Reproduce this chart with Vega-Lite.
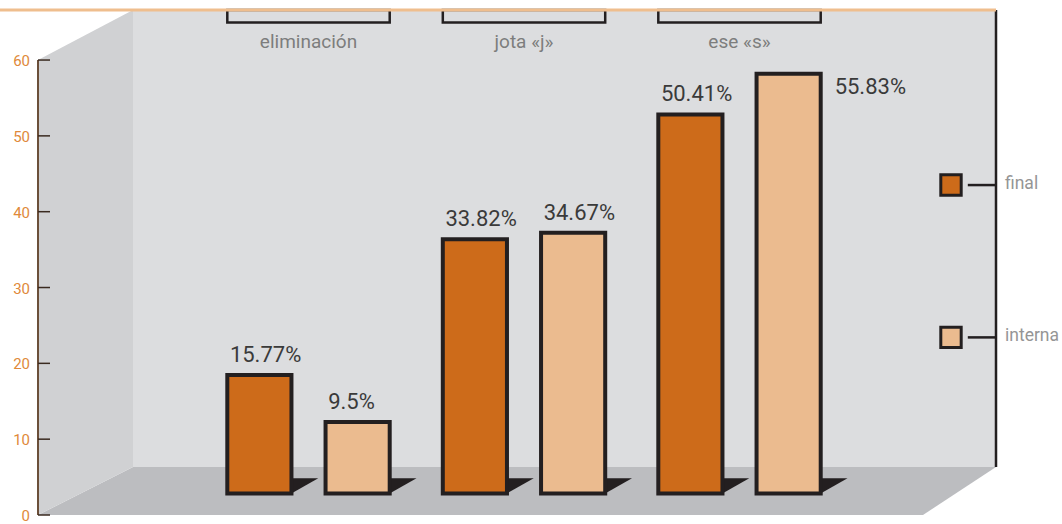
{
  "$schema": "https://vega.github.io/schema/vega-lite/v6.json",
  "width": 863,
  "height": 457,
  "autosize": {"type": "none"},
  "padding": {"left": 133, "top": 10, "right": 66, "bottom": 57},
  "background": "white",
  "view": {"fill": "#dcdddf", "stroke": null},
  "datasets": {
    "datos": [
      {"categoria": "eliminación", "serie": "final", "valor": 15.77, "etiqueta": "15.77%"},
      {"categoria": "eliminación", "serie": "interna", "valor": 9.5, "etiqueta": "9.5%"},
      {"categoria": "jota «j»", "serie": "final", "valor": 33.82, "etiqueta": "33.82%"},
      {"categoria": "jota «j»", "serie": "interna", "valor": 34.67, "etiqueta": "34.67%"},
      {"categoria": "ese «s»", "serie": "final", "valor": 50.41, "etiqueta": "50.41%"},
      {"categoria": "ese «s»", "serie": "interna", "valor": 55.83, "etiqueta": "55.83%"}
    ],
    "pared": [{"x": -0.4403, "sup": 60, "inf": 0}, {"x": 0, "sup": 66.6, "inf": 6.33}],
    "suelo": [{"y": 0, "izq": -0.4403, "der": 3.6616}, {"y": 6.33, "izq": 0, "der": 4}],
    "marcas": [{"v": 0}, {"v": 10}, {"v": 20}, {"v": 30}, {"v": 40}, {"v": 50}, {"v": 60}],
    "series": [{"serie": "final"}, {"serie": "interna"}]
  },
  "resolve": {"scale": {"x": "independent", "y": "independent"}},
  "layer": [
    {
      "data": {"name": "suelo"},
      "mark": {"type": "area", "orient": "horizontal", "fill": "#bcbdc0"},
      "encoding": {
        "y": {"field": "y", "type": "quantitative", "scale": {"domain": [6.33, 66.6], "nice": false, "zero": false}, "axis": null},
        "x": {"field": "izq", "type": "quantitative", "scale": {"domain": [0, 4], "nice": false, "zero": false}, "axis": null},
        "x2": {"field": "der"}
      }
    },
    {
      "data": {"name": "pared"},
      "mark": {"type": "area", "orient": "vertical", "fill": "#d0d1d3"},
      "encoding": {
        "x": {"field": "x", "type": "quantitative", "scale": {"domain": [0, 4], "nice": false, "zero": false}, "axis": null},
        "y": {"field": "sup", "type": "quantitative", "scale": {"domain": [6.33, 66.6], "nice": false, "zero": false}, "axis": null},
        "y2": {"field": "inf"}
      }
    },
    {
      "data": {"values": [{}]},
      "mark": {"type": "rule", "stroke": "#231f20", "strokeWidth": 2.5},
      "encoding": {
        "x": {"datum": 4, "type": "quantitative", "scale": {"domain": [0, 4], "nice": false, "zero": false}, "axis": null},
        "y": {"datum": 6.33, "type": "quantitative", "scale": {"domain": [6.33, 66.6], "nice": false, "zero": false}, "axis": null},
        "y2": {"datum": 66.6}
      }
    },
    {
      "data": {"values": [{}]},
      "mark": {"type": "rule", "stroke": "#6b4f3a", "strokeWidth": 2},
      "encoding": {
        "x": {"datum": -0.4403, "type": "quantitative", "scale": {"domain": [0, 4], "nice": false, "zero": false}, "axis": null},
        "y": {"datum": 0, "type": "quantitative", "scale": {"domain": [6.33, 66.6], "nice": false, "zero": false}, "axis": null},
        "y2": {"datum": 60}
      }
    },
    {
      "data": {"name": "marcas"},
      "mark": {"type": "rule", "stroke": "#3a2a20", "strokeWidth": 1.5},
      "encoding": {
        "x": {"datum": -0.4403, "type": "quantitative", "scale": {"domain": [0, 4], "nice": false, "zero": false}, "axis": null},
        "x2": {"datum": -0.3847},
        "y": {"field": "v", "type": "quantitative", "scale": {"domain": [6.33, 66.6], "nice": false, "zero": false}, "axis": null}
      }
    },
    {
      "data": {"name": "marcas"},
      "mark": {"type": "text", "align": "right", "baseline": "middle", "dx": -8, "dy": 1, "fill": "#e0893a", "fontSize": 15, "font": "Roboto"},
      "encoding": {
        "x": {"datum": -0.4403, "type": "quantitative", "scale": {"domain": [0, 4], "nice": false, "zero": false}, "axis": null},
        "y": {"field": "v", "type": "quantitative", "scale": {"domain": [6.33, 66.6], "nice": false, "zero": false}, "axis": null},
        "text": {"field": "v", "type": "quantitative"}
      }
    },
    {
      "data": {"name": "datos"},
      "transform": [{"filter": "datum.serie == 'final'"}],
      "mark": {"type": "bar", "fill": "transparent", "stroke": "#231f20", "strokeWidth": 2.5},
      "encoding": {
        "x": {"field": "categoria", "type": "nominal", "sort": ["eliminación", "jota «j»", "ese «s»"], "scale": {"type": "band", "domain": ["eliminación", "jota «j»", "ese «s»"], "paddingInner": 0.2464, "paddingOuter": 0.6255, "align": 0.3498}, "axis": null},
        "y": {"datum": 64.295, "type": "quantitative", "scale": {"domain": [3.524, 64.295], "nice": false, "zero": false}, "axis": null},
        "y2": {"datum": 62.63}
      }
    },
    {
      "data": {"values": [{}]},
      "mark": {"type": "rule", "stroke": "#efbe8e", "strokeWidth": 3.2},
      "encoding": {
        "x": {"datum": -0.6165, "type": "quantitative", "scale": {"domain": [0, 4], "nice": false, "zero": false}, "axis": null},
        "x2": {"datum": 4},
        "y": {"datum": 66.6, "type": "quantitative", "scale": {"domain": [6.33, 66.6], "nice": false, "zero": false}, "axis": null}
      }
    },
    {
      "data": {"name": "datos"},
      "transform": [{"filter": "datum.serie == 'final'"}],
      "mark": {"type": "text", "align": "center", "baseline": "alphabetic", "fill": "#7d7d7d", "fontSize": 19, "font": "Roboto"},
      "encoding": {
        "x": {"field": "categoria", "type": "nominal", "sort": ["eliminación", "jota «j»", "ese «s»"], "scale": {"type": "band", "domain": ["eliminación", "jota «j»", "ese «s»"], "paddingInner": 0.2464, "paddingOuter": 0.6255, "align": 0.3498}, "axis": null},
        "y": {"datum": 59.28, "type": "quantitative", "scale": {"domain": [3.524, 64.295], "nice": false, "zero": false}, "axis": null},
        "text": {"field": "categoria"}
      }
    },
    {
      "data": {"name": "datos"},
      "mark": {"type": "point", "shape": "M1,0L1,-0.475L1.84,-0.475Z", "size": 4096, "filled": true, "fill": "#231f20", "opacity": 1, "strokeWidth": 0},
      "encoding": {
        "x": {"field": "categoria", "type": "nominal", "sort": ["eliminación", "jota «j»", "ese «s»"], "scale": {"type": "band", "domain": ["eliminación", "jota «j»", "ese «s»"], "paddingInner": 0.2464, "paddingOuter": 0.6255, "align": 0.3498}, "axis": null},
        "xOffset": {"field": "serie", "type": "nominal", "sort": ["final", "interna"], "scale": {"type": "band", "domain": ["final", "interna"], "paddingInner": 0.347, "paddingOuter": 0}},
        "y": {"datum": 0, "type": "quantitative", "scale": {"domain": [3.524, 64.295], "nice": false, "zero": false}, "axis": null}
      }
    },
    {
      "data": {"name": "datos"},
      "mark": {"type": "bar", "stroke": "#231f20", "strokeWidth": 4},
      "encoding": {
        "x": {"field": "categoria", "type": "nominal", "sort": ["eliminación", "jota «j»", "ese «s»"], "scale": {"type": "band", "domain": ["eliminación", "jota «j»", "ese «s»"], "paddingInner": 0.2464, "paddingOuter": 0.6255, "align": 0.3498}, "axis": null},
        "xOffset": {"field": "serie", "type": "nominal", "sort": ["final", "interna"], "scale": {"type": "band", "domain": ["final", "interna"], "paddingInner": 0.347, "paddingOuter": 0}},
        "y": {"field": "valor", "type": "quantitative", "scale": {"domain": [3.524, 64.295], "nice": false, "zero": false}, "axis": null},
        "y2": {"datum": 0},
        "color": {"field": "serie", "type": "nominal", "scale": {"domain": ["final", "interna"], "range": ["#cd6b1a", "#ebbb8f"]}, "legend": null}
      }
    },
    {
      "data": {"name": "datos"},
      "transform": [{"filter": "datum.valor < 55"}],
      "mark": {"type": "text", "align": "left", "baseline": "alphabetic", "dx": -29.5, "dy": -13, "fill": "#3a3a3a", "fontSize": 22, "font": "Roboto"},
      "encoding": {
        "x": {"field": "categoria", "type": "nominal", "sort": ["eliminación", "jota «j»", "ese «s»"], "scale": {"type": "band", "domain": ["eliminación", "jota «j»", "ese «s»"], "paddingInner": 0.2464, "paddingOuter": 0.6255, "align": 0.3498}, "axis": null},
        "xOffset": {"field": "serie", "type": "nominal", "sort": ["final", "interna"], "scale": {"type": "band", "domain": ["final", "interna"], "paddingInner": 0.347, "paddingOuter": 0}},
        "y": {"field": "valor", "type": "quantitative", "scale": {"domain": [3.524, 64.295], "nice": false, "zero": false}, "axis": null},
        "text": {"field": "etiqueta"}
      }
    },
    {
      "data": {"name": "datos"},
      "transform": [{"filter": "datum.valor >= 55"}],
      "mark": {"type": "text", "align": "left", "baseline": "top", "dx": 46, "dy": 3, "fill": "#3a3a3a", "fontSize": 22, "font": "Roboto"},
      "encoding": {
        "x": {"field": "categoria", "type": "nominal", "sort": ["eliminación", "jota «j»", "ese «s»"], "scale": {"type": "band", "domain": ["eliminación", "jota «j»", "ese «s»"], "paddingInner": 0.2464, "paddingOuter": 0.6255, "align": 0.3498}, "axis": null},
        "xOffset": {"field": "serie", "type": "nominal", "sort": ["final", "interna"], "scale": {"type": "band", "domain": ["final", "interna"], "paddingInner": 0.347, "paddingOuter": 0}},
        "y": {"field": "valor", "type": "quantitative", "scale": {"domain": [3.524, 64.295], "nice": false, "zero": false}, "axis": null},
        "text": {"field": "etiqueta"}
      }
    },
    {
      "data": {"name": "series"},
      "mark": {"type": "rule", "stroke": "#231f20", "strokeWidth": 2.5},
      "encoding": {
        "x": {"datum": 3.8693, "type": "quantitative", "scale": {"domain": [0, 4], "nice": false, "zero": false}, "axis": null},
        "x2": {"datum": 4},
        "y": {"field": "serie", "type": "nominal", "sort": ["final", "interna"], "scale": {"type": "point", "domain": ["final", "interna"], "padding": 1.0576, "align": 0.5746}, "axis": null}
      }
    },
    {
      "data": {"name": "series"},
      "mark": {"type": "square", "size": 416, "filled": true, "opacity": 1, "stroke": "#231f20", "strokeWidth": 3},
      "encoding": {
        "x": {"datum": 3.7914, "type": "quantitative", "scale": {"domain": [0, 4], "nice": false, "zero": false}, "axis": null},
        "y": {"field": "serie", "type": "nominal", "sort": ["final", "interna"], "scale": {"type": "point", "domain": ["final", "interna"], "padding": 1.0576, "align": 0.5746}, "axis": null},
        "color": {"field": "serie", "type": "nominal", "scale": {"domain": ["final", "interna"], "range": ["#cd6b1a", "#ebbb8f"]}, "legend": null}
      }
    },
    {
      "data": {"name": "series"},
      "mark": {"type": "text", "align": "left", "baseline": "middle", "dx": 9, "dy": -1, "fill": "#959595", "fontSize": 17.5, "font": "Roboto"},
      "encoding": {
        "x": {"datum": 4, "type": "quantitative", "scale": {"domain": [0, 4], "nice": false, "zero": false}, "axis": null},
        "y": {"field": "serie", "type": "nominal", "sort": ["final", "interna"], "scale": {"type": "point", "domain": ["final", "interna"], "padding": 1.0576, "align": 0.5746}, "axis": null},
        "text": {"field": "serie"}
      }
    }
  ]
}
